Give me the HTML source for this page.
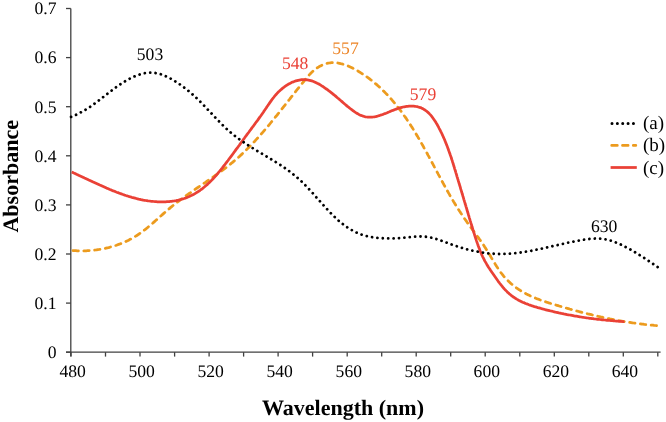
<!DOCTYPE html>
<html><head><meta charset="utf-8"><style>
html,body{margin:0;padding:0;background:#fff;}
svg{display:block;will-change:transform;}
.t{font-family:"Liberation Serif",serif;font-size:17.6px;fill:#000;}
.l{font-family:"Liberation Serif",serif;font-size:19px;fill:#000;}
svg text{text-rendering:geometricPrecision;}
.b{font-family:"Liberation Serif",serif;font-size:22px;font-weight:bold;fill:#000;}
</style></head><body>
<svg width="666" height="422" viewBox="0 0 666 422">
<line x1="70.8" y1="8.6" x2="70.8" y2="356.5" stroke="#404040" stroke-width="1.3"/>
<line x1="66" y1="352.2" x2="660.6" y2="352.2" stroke="#404040" stroke-width="1.3"/>
<line x1="66" y1="352.2" x2="70.8" y2="352.2" stroke="#404040" stroke-width="1.3"/>
<line x1="66" y1="303.1" x2="70.8" y2="303.1" stroke="#404040" stroke-width="1.3"/>
<line x1="66" y1="254.0" x2="70.8" y2="254.0" stroke="#404040" stroke-width="1.3"/>
<line x1="66" y1="204.9" x2="70.8" y2="204.9" stroke="#404040" stroke-width="1.3"/>
<line x1="66" y1="155.8" x2="70.8" y2="155.8" stroke="#404040" stroke-width="1.3"/>
<line x1="66" y1="106.7" x2="70.8" y2="106.7" stroke="#404040" stroke-width="1.3"/>
<line x1="66" y1="57.6" x2="70.8" y2="57.6" stroke="#404040" stroke-width="1.3"/>
<line x1="66" y1="8.5" x2="70.8" y2="8.5" stroke="#404040" stroke-width="1.3"/>
<line x1="71.0" y1="352.2" x2="71.0" y2="356.6" stroke="#404040" stroke-width="1.3"/>
<line x1="105.5" y1="352.2" x2="105.5" y2="356.6" stroke="#404040" stroke-width="1.3"/>
<line x1="140.0" y1="352.2" x2="140.0" y2="356.6" stroke="#404040" stroke-width="1.3"/>
<line x1="174.6" y1="352.2" x2="174.6" y2="356.6" stroke="#404040" stroke-width="1.3"/>
<line x1="209.1" y1="352.2" x2="209.1" y2="356.6" stroke="#404040" stroke-width="1.3"/>
<line x1="243.6" y1="352.2" x2="243.6" y2="356.6" stroke="#404040" stroke-width="1.3"/>
<line x1="278.1" y1="352.2" x2="278.1" y2="356.6" stroke="#404040" stroke-width="1.3"/>
<line x1="312.6" y1="352.2" x2="312.6" y2="356.6" stroke="#404040" stroke-width="1.3"/>
<line x1="347.2" y1="352.2" x2="347.2" y2="356.6" stroke="#404040" stroke-width="1.3"/>
<line x1="381.7" y1="352.2" x2="381.7" y2="356.6" stroke="#404040" stroke-width="1.3"/>
<line x1="416.2" y1="352.2" x2="416.2" y2="356.6" stroke="#404040" stroke-width="1.3"/>
<line x1="450.7" y1="352.2" x2="450.7" y2="356.6" stroke="#404040" stroke-width="1.3"/>
<line x1="485.2" y1="352.2" x2="485.2" y2="356.6" stroke="#404040" stroke-width="1.3"/>
<line x1="519.8" y1="352.2" x2="519.8" y2="356.6" stroke="#404040" stroke-width="1.3"/>
<line x1="554.3" y1="352.2" x2="554.3" y2="356.6" stroke="#404040" stroke-width="1.3"/>
<line x1="588.8" y1="352.2" x2="588.8" y2="356.6" stroke="#404040" stroke-width="1.3"/>
<line x1="623.3" y1="352.2" x2="623.3" y2="356.6" stroke="#404040" stroke-width="1.3"/>
<line x1="657.8" y1="352.2" x2="657.8" y2="356.6" stroke="#404040" stroke-width="1.3"/>
<text x="56.5" y="358.0" text-anchor="end" class="t">0</text>
<text x="56.5" y="308.9" text-anchor="end" class="t">0.1</text>
<text x="56.5" y="259.8" text-anchor="end" class="t">0.2</text>
<text x="56.5" y="210.7" text-anchor="end" class="t">0.3</text>
<text x="56.5" y="161.6" text-anchor="end" class="t">0.4</text>
<text x="56.5" y="112.5" text-anchor="end" class="t">0.5</text>
<text x="56.5" y="63.4" text-anchor="end" class="t">0.6</text>
<text x="56.5" y="14.3" text-anchor="end" class="t">0.7</text>
<text x="72.6" y="377.0" text-anchor="middle" class="t">480</text>
<text x="141.6" y="377.0" text-anchor="middle" class="t">500</text>
<text x="210.7" y="377.0" text-anchor="middle" class="t">520</text>
<text x="279.7" y="377.0" text-anchor="middle" class="t">540</text>
<text x="348.8" y="377.0" text-anchor="middle" class="t">560</text>
<text x="417.8" y="377.0" text-anchor="middle" class="t">580</text>
<text x="486.8" y="377.0" text-anchor="middle" class="t">600</text>
<text x="555.9" y="377.0" text-anchor="middle" class="t">620</text>
<text x="624.9" y="377.0" text-anchor="middle" class="t">640</text>
<path d="M71.6,250.4 L72.7,250.5 L73.8,250.6 L74.9,250.7 L76.0,250.7 L77.1,250.8 L78.2,250.8 L79.4,250.9 L80.5,250.9 L81.7,250.9 L82.8,250.9 L83.9,250.8 L85.1,250.8 L86.2,250.8 L87.4,250.7 L88.6,250.6 L89.7,250.6 L90.9,250.5 L92.1,250.4 L93.2,250.2 L94.4,250.1 L95.6,250.0 L96.7,249.8 L97.9,249.6 L99.1,249.5 L100.3,249.3 L101.4,249.1 L102.6,248.8 L103.8,248.6 L104.9,248.4 L106.1,248.1 L107.3,247.8 L108.4,247.6 L109.6,247.3 L110.7,246.9 L111.9,246.6 L113.0,246.3 L114.2,245.9 L115.3,245.6 L116.5,245.2 L117.6,244.8 L118.7,244.4 L119.8,244.0 L121.0,243.6 L122.1,243.1 L123.2,242.7 L124.3,242.2 L125.4,241.7 L126.4,241.2 L127.5,240.7 L128.6,240.2 L129.6,239.6 L130.7,239.1 L131.7,238.5 L132.8,237.9 L133.8,237.4 L134.8,236.7 L135.8,236.1 L136.8,235.5 L137.8,234.8 L138.8,234.2 L139.7,233.5 L140.7,232.8 L141.7,232.1 L142.6,231.4 L143.6,230.7 L144.5,230.0 L145.4,229.3 L146.4,228.5 L147.3,227.8 L148.2,227.0 L149.1,226.3 L150.0,225.5 L150.9,224.7 L151.8,223.9 L152.7,223.2 L153.6,222.4 L154.5,221.6 L155.4,220.8 L156.3,220.0 L157.2,219.2 L158.1,218.4 L159.0,217.6 L159.9,216.8 L160.8,216.0 L161.7,215.2 L162.6,214.4 L163.5,213.6 L164.4,212.8 L165.3,212.0 L166.2,211.2 L167.1,210.4 L168.0,209.6 L169.0,208.9 L169.9,208.1 L170.8,207.3 L171.7,206.6 L172.7,205.8 L173.6,205.1 L174.6,204.3 L175.5,203.6 L176.5,202.8 L177.4,202.1 L178.4,201.4 L179.4,200.6 L180.3,199.9 L181.3,199.2 L182.3,198.5 L183.2,197.8 L184.2,197.1 L185.2,196.4 L186.2,195.6 L187.2,194.9 L188.2,194.2 L189.1,193.5 L190.1,192.9 L191.1,192.2 L192.1,191.5 L193.1,190.8 L194.1,190.1 L195.1,189.4 L196.1,188.7 L197.1,188.0 L198.1,187.3 L199.1,186.7 L200.1,186.0 L201.1,185.3 L202.1,184.6 L203.1,183.9 L204.1,183.2 L205.1,182.6 L206.1,181.9 L207.1,181.2 L208.1,180.5 L209.1,179.8 L210.0,179.1 L211.0,178.4 L212.0,177.8 L213.0,177.1 L214.0,176.4 L215.0,175.7 L216.0,175.0 L216.9,174.3 L217.9,173.6 L218.9,172.9 L219.9,172.2 L220.8,171.5 L221.8,170.7 L222.8,170.0 L223.7,169.3 L224.7,168.6 L225.6,167.9 L226.6,167.1 L227.5,166.4 L228.4,165.7 L229.4,164.9 L230.3,164.2 L231.2,163.4 L232.2,162.7 L233.1,161.9 L234.0,161.2 L234.9,160.4 L235.8,159.6 L236.7,158.8 L237.6,158.1 L238.5,157.3 L239.4,156.5 L240.2,155.7 L241.1,154.9 L242.0,154.1 L242.8,153.3 L243.7,152.4 L244.6,151.6 L245.4,150.8 L246.2,150.0 L247.1,149.1 L247.9,148.3 L248.8,147.5 L249.6,146.6 L250.4,145.8 L251.3,144.9 L252.1,144.1 L252.9,143.2 L253.7,142.3 L254.5,141.5 L255.3,140.6 L256.1,139.7 L256.9,138.8 L257.7,138.0 L258.5,137.1 L259.3,136.2 L260.1,135.3 L260.9,134.4 L261.7,133.5 L262.5,132.6 L263.3,131.7 L264.0,130.8 L264.8,129.9 L265.6,129.0 L266.4,128.1 L267.1,127.2 L267.9,126.2 L268.7,125.3 L269.5,124.4 L270.2,123.5 L271.0,122.5 L271.7,121.6 L272.5,120.7 L273.3,119.8 L274.0,118.8 L274.8,117.9 L275.5,116.9 L276.3,116.0 L277.1,115.1 L277.8,114.1 L278.6,113.2 L279.3,112.2 L280.1,111.3 L280.8,110.3 L281.6,109.4 L282.3,108.4 L283.1,107.5 L283.8,106.5 L284.6,105.6 L285.3,104.6 L286.1,103.6 L286.8,102.7 L287.6,101.7 L288.4,100.8 L289.1,99.8 L289.9,98.9 L290.6,97.9 L291.4,96.9 L292.1,96.0 L292.9,95.0 L293.7,94.0 L294.4,93.1 L295.2,92.1 L295.9,91.2 L296.7,90.2 L297.5,89.2 L298.2,88.3 L299.0,87.3 L299.8,86.4 L300.5,85.4 L301.3,84.4 L302.1,83.5 L302.9,82.5 L303.7,81.6 L304.4,80.6 L305.2,79.6 L306.0,78.7 L306.8,77.7 L307.6,76.8 L308.4,75.9 L309.2,74.9 L310.1,74.0 L310.9,73.1 L311.8,72.3 L312.7,71.4 L313.6,70.6 L314.5,69.9 L315.4,69.1 L316.4,68.4 L317.4,67.7 L318.4,67.1 L319.4,66.5 L320.5,65.9 L321.5,65.4 L322.6,64.9 L323.7,64.5 L324.8,64.1 L325.9,63.7 L327.0,63.4 L328.1,63.2 L329.2,63.0 L330.4,62.8 L331.5,62.7 L332.6,62.7 L333.8,62.7 L334.9,62.7 L336.1,62.8 L337.2,62.9 L338.4,63.1 L339.5,63.3 L340.6,63.6 L341.8,63.8 L342.9,64.2 L344.0,64.5 L345.2,64.9 L346.3,65.3 L347.4,65.7 L348.6,66.2 L349.7,66.7 L350.8,67.2 L351.9,67.7 L353.0,68.3 L354.1,68.9 L355.2,69.5 L356.3,70.1 L357.3,70.7 L358.4,71.3 L359.5,72.0 L360.5,72.6 L361.6,73.3 L362.6,74.0 L363.6,74.6 L364.6,75.3 L365.6,76.0 L366.6,76.7 L367.6,77.4 L368.6,78.1 L369.6,78.9 L370.5,79.6 L371.5,80.3 L372.4,81.1 L373.3,81.8 L374.3,82.6 L375.2,83.4 L376.1,84.1 L377.0,84.9 L377.9,85.7 L378.8,86.5 L379.7,87.3 L380.6,88.1 L381.4,88.9 L382.3,89.8 L383.1,90.6 L384.0,91.4 L384.8,92.3 L385.6,93.1 L386.5,94.0 L387.3,94.8 L388.1,95.7 L388.9,96.5 L389.7,97.4 L390.5,98.3 L391.3,99.2 L392.1,100.1 L392.8,101.0 L393.6,101.9 L394.4,102.8 L395.1,103.7 L395.9,104.6 L396.6,105.5 L397.3,106.5 L398.1,107.4 L398.8,108.3 L399.5,109.3 L400.2,110.2 L401.0,111.2 L401.7,112.1 L402.4,113.1 L403.1,114.0 L403.7,115.0 L404.4,116.0 L405.1,116.9 L405.8,117.9 L406.5,118.9 L407.1,119.9 L407.8,120.9 L408.5,121.9 L409.1,122.9 L409.8,123.9 L410.4,124.9 L411.1,125.9 L411.7,126.9 L412.4,127.9 L413.0,128.9 L413.6,129.9 L414.3,131.0 L414.9,132.0 L415.5,133.0 L416.1,134.0 L416.7,135.1 L417.4,136.1 L418.0,137.2 L418.6,138.2 L419.2,139.2 L419.8,140.3 L420.4,141.3 L421.0,142.4 L421.6,143.4 L422.2,144.5 L422.8,145.5 L423.4,146.6 L423.9,147.6 L424.5,148.7 L425.1,149.7 L425.7,150.8 L426.3,151.9 L426.9,152.9 L427.4,154.0 L428.0,155.1 L428.6,156.1 L429.2,157.2 L429.7,158.3 L430.3,159.3 L430.9,160.4 L431.5,161.5 L432.0,162.5 L432.6,163.6 L433.2,164.7 L433.8,165.7 L434.3,166.8 L434.9,167.9 L435.5,169.0 L436.0,170.0 L436.6,171.1 L437.2,172.2 L437.8,173.2 L438.3,174.3 L438.9,175.4 L439.5,176.4 L440.0,177.5 L440.6,178.6 L441.2,179.6 L441.8,180.7 L442.3,181.8 L442.9,182.8 L443.5,183.9 L444.1,185.0 L444.7,186.0 L445.3,187.1 L445.8,188.1 L446.4,189.2 L447.0,190.2 L447.6,191.3 L448.2,192.3 L448.8,193.4 L449.4,194.4 L450.0,195.5 L450.6,196.5 L451.2,197.5 L451.8,198.6 L452.4,199.6 L453.0,200.6 L453.6,201.7 L454.3,202.7 L454.9,203.7 L455.5,204.7 L456.1,205.8 L456.8,206.8 L457.4,207.8 L458.0,208.8 L458.7,209.8 L459.3,210.8 L460.0,211.8 L460.6,212.8 L461.3,213.8 L461.9,214.8 L462.6,215.8 L463.3,216.7 L463.9,217.7 L464.6,218.7 L465.3,219.7 L466.0,220.6 L466.7,221.6 L467.3,222.6 L468.0,223.5 L468.7,224.5 L469.4,225.4 L470.1,226.4 L470.8,227.4 L471.5,228.3 L472.2,229.3 L472.9,230.2 L473.6,231.2 L474.3,232.1 L475.0,233.1 L475.7,234.0 L476.4,235.0 L477.1,236.0 L477.8,236.9 L478.5,237.9 L479.2,238.9 L479.9,239.8 L480.6,240.8 L481.3,241.8 L482.0,242.8 L482.6,243.8 L483.3,244.7 L484.0,245.7 L484.6,246.7 L485.3,247.8 L485.9,248.8 L486.6,249.8 L487.2,250.8 L487.9,251.8 L488.5,252.9 L489.1,253.9 L489.8,255.0 L490.4,256.0 L491.0,257.1 L491.6,258.1 L492.2,259.2 L492.9,260.2 L493.5,261.3 L494.1,262.3 L494.8,263.4 L495.4,264.4 L496.1,265.5 L496.7,266.5 L497.4,267.5 L498.0,268.5 L498.7,269.6 L499.4,270.6 L500.1,271.5 L500.8,272.5 L501.6,273.5 L502.3,274.4 L503.1,275.4 L503.8,276.3 L504.6,277.2 L505.4,278.1 L506.3,279.0 L507.1,279.9 L508.0,280.7 L508.8,281.5 L509.7,282.4 L510.6,283.2 L511.5,284.0 L512.4,284.7 L513.4,285.5 L514.3,286.2 L515.3,287.0 L516.2,287.7 L517.2,288.4 L518.2,289.1 L519.2,289.7 L520.2,290.4 L521.2,291.0 L522.3,291.7 L523.3,292.3 L524.3,292.9 L525.4,293.4 L526.5,294.0 L527.5,294.5 L528.6,295.1 L529.7,295.6 L530.8,296.1 L531.9,296.6 L533.0,297.1 L534.1,297.6 L535.2,298.0 L536.3,298.5 L537.4,298.9 L538.6,299.3 L539.7,299.8 L540.8,300.2 L542.0,300.6 L543.1,301.0 L544.3,301.4 L545.4,301.7 L546.5,302.1 L547.7,302.5 L548.8,302.9 L550.0,303.2 L551.1,303.6 L552.3,303.9 L553.5,304.3 L554.6,304.6 L555.8,305.0 L556.9,305.3 L558.1,305.6 L559.2,306.0 L560.4,306.3 L561.5,306.7 L562.7,307.0 L563.8,307.3 L565.0,307.7 L566.1,308.0 L567.3,308.3 L568.4,308.6 L569.6,309.0 L570.7,309.3 L571.9,309.6 L573.0,309.9 L574.2,310.2 L575.3,310.6 L576.4,310.9 L577.6,311.2 L578.7,311.5 L579.9,311.8 L581.0,312.1 L582.2,312.4 L583.3,312.7 L584.5,313.0 L585.6,313.3 L586.8,313.6 L587.9,313.9 L589.1,314.1 L590.2,314.4 L591.4,314.7 L592.5,315.0 L593.7,315.3 L594.8,315.5 L596.0,315.8 L597.1,316.1 L598.3,316.4 L599.4,316.6 L600.6,316.9 L601.8,317.1 L602.9,317.4 L604.1,317.6 L605.2,317.9 L606.4,318.1 L607.6,318.4 L608.7,318.6 L609.9,318.9 L611.0,319.1 L612.2,319.3 L613.4,319.6 L614.5,319.8 L615.7,320.0 L616.9,320.2 L618.1,320.4 L619.2,320.7 L620.4,320.9 L621.6,321.1 L622.8,321.3 L624.0,321.5 L625.1,321.7 L626.3,321.9 L627.5,322.1 L628.7,322.3 L629.9,322.4 L631.1,322.6 L632.3,322.8 L633.5,323.0 L634.7,323.1 L635.9,323.3 L637.1,323.5 L638.3,323.6 L639.5,323.8 L640.7,323.9 L641.9,324.1 L643.1,324.2 L644.3,324.4 L645.5,324.5 L646.8,324.6 L648.0,324.8 L649.2,324.9 L650.4,325.0 L651.7,325.1 L652.9,325.2 L654.1,325.4 L655.4,325.5 L656.6,325.6 L657.9,325.7 L658.9,325.7" fill="none" stroke="#EC9B1E" stroke-width="2.75" stroke-linecap="round" stroke-linejoin="round" stroke-dasharray="5.4 5.45" stroke-dashoffset="-1.4"/>
<path d="M71.7,172.0 L72.8,172.5 L73.8,173.0 L74.9,173.4 L76.0,173.9 L77.0,174.4 L78.1,174.9 L79.1,175.4 L80.2,175.9 L81.3,176.4 L82.4,176.9 L83.4,177.4 L84.5,178.0 L85.6,178.5 L86.7,179.0 L87.8,179.5 L88.8,180.0 L89.9,180.5 L91.0,181.0 L92.1,181.5 L93.2,182.1 L94.3,182.6 L95.4,183.1 L96.5,183.6 L97.6,184.1 L98.7,184.6 L99.8,185.1 L101.0,185.6 L102.1,186.1 L103.2,186.6 L104.3,187.1 L105.4,187.6 L106.5,188.1 L107.7,188.5 L108.8,189.0 L109.9,189.5 L111.1,189.9 L112.2,190.4 L113.3,190.9 L114.5,191.3 L115.6,191.8 L116.7,192.2 L117.9,192.6 L119.0,193.1 L120.2,193.5 L121.3,193.9 L122.4,194.3 L123.6,194.7 L124.7,195.1 L125.9,195.5 L127.0,195.8 L128.2,196.2 L129.4,196.6 L130.5,196.9 L131.7,197.3 L132.8,197.6 L134.0,197.9 L135.1,198.2 L136.3,198.5 L137.5,198.8 L138.6,199.1 L139.8,199.3 L141.0,199.6 L142.1,199.8 L143.3,200.1 L144.5,200.3 L145.7,200.5 L146.8,200.7 L148.0,200.9 L149.2,201.0 L150.4,201.2 L151.5,201.3 L152.7,201.4 L153.9,201.5 L155.1,201.6 L156.2,201.7 L157.4,201.8 L158.6,201.8 L159.8,201.9 L161.0,201.9 L162.1,201.9 L163.3,201.9 L164.5,201.9 L165.7,201.8 L166.9,201.7 L168.0,201.7 L169.2,201.6 L170.4,201.4 L171.5,201.3 L172.7,201.1 L173.9,201.0 L175.0,200.8 L176.2,200.6 L177.3,200.3 L178.5,200.1 L179.6,199.8 L180.8,199.5 L181.9,199.2 L183.0,198.8 L184.1,198.5 L185.3,198.1 L186.4,197.7 L187.5,197.2 L188.6,196.8 L189.7,196.3 L190.7,195.8 L191.8,195.3 L192.9,194.7 L193.9,194.2 L195.0,193.6 L196.0,192.9 L197.1,192.3 L198.1,191.6 L199.1,191.0 L200.1,190.3 L201.1,189.5 L202.1,188.8 L203.0,188.1 L204.0,187.3 L204.9,186.5 L205.8,185.7 L206.8,184.9 L207.7,184.1 L208.5,183.3 L209.4,182.5 L210.3,181.6 L211.1,180.8 L212.0,179.9 L212.8,179.0 L213.6,178.2 L214.4,177.3 L215.2,176.4 L216.0,175.5 L216.8,174.6 L217.6,173.7 L218.4,172.7 L219.1,171.8 L219.9,170.9 L220.7,170.0 L221.4,169.0 L222.2,168.1 L222.9,167.1 L223.6,166.2 L224.4,165.2 L225.1,164.3 L225.8,163.3 L226.5,162.4 L227.3,161.4 L228.0,160.5 L228.7,159.5 L229.4,158.5 L230.1,157.6 L230.9,156.6 L231.6,155.7 L232.3,154.7 L233.0,153.7 L233.7,152.8 L234.4,151.8 L235.1,150.9 L235.8,149.9 L236.5,148.9 L237.3,148.0 L238.0,147.0 L238.7,146.0 L239.4,145.1 L240.1,144.1 L240.8,143.1 L241.5,142.2 L242.2,141.2 L242.9,140.2 L243.6,139.2 L244.3,138.3 L245.0,137.3 L245.7,136.3 L246.4,135.4 L247.1,134.4 L247.9,133.4 L248.6,132.5 L249.3,131.5 L250.0,130.5 L250.7,129.6 L251.4,128.6 L252.1,127.6 L252.9,126.7 L253.6,125.7 L254.3,124.7 L255.0,123.8 L255.7,122.8 L256.4,121.8 L257.2,120.8 L257.9,119.9 L258.6,118.9 L259.3,117.9 L260.0,116.9 L260.7,116.0 L261.4,115.0 L262.1,114.0 L262.8,113.0 L263.5,112.0 L264.1,111.0 L264.8,110.0 L265.5,109.0 L266.2,108.0 L266.8,107.0 L267.5,106.0 L268.2,105.1 L268.8,104.1 L269.5,103.1 L270.2,102.1 L270.9,101.1 L271.6,100.1 L272.3,99.2 L273.0,98.2 L273.8,97.3 L274.5,96.3 L275.3,95.4 L276.1,94.5 L276.9,93.6 L277.7,92.7 L278.6,91.8 L279.5,91.0 L280.3,90.2 L281.3,89.4 L282.2,88.6 L283.1,87.8 L284.1,87.1 L285.1,86.3 L286.1,85.6 L287.1,85.0 L288.2,84.3 L289.3,83.7 L290.3,83.2 L291.4,82.6 L292.6,82.1 L293.7,81.7 L294.8,81.3 L295.9,80.9 L297.1,80.6 L298.2,80.3 L299.4,80.1 L300.5,79.9 L301.7,79.7 L302.8,79.7 L304.0,79.6 L305.1,79.7 L306.3,79.8 L307.4,79.9 L308.5,80.1 L309.6,80.3 L310.7,80.6 L311.8,80.9 L312.9,81.3 L314.0,81.7 L315.1,82.2 L316.2,82.7 L317.2,83.2 L318.3,83.7 L319.3,84.3 L320.3,84.9 L321.4,85.6 L322.4,86.2 L323.4,86.9 L324.4,87.6 L325.4,88.3 L326.4,89.0 L327.4,89.7 L328.3,90.4 L329.3,91.2 L330.3,91.9 L331.2,92.6 L332.2,93.4 L333.1,94.1 L334.0,94.9 L335.0,95.6 L335.9,96.4 L336.8,97.2 L337.7,98.0 L338.6,98.7 L339.5,99.5 L340.4,100.3 L341.4,101.1 L342.3,101.9 L343.2,102.7 L344.1,103.5 L345.0,104.3 L346.0,105.1 L346.9,105.9 L347.8,106.7 L348.8,107.4 L349.8,108.2 L350.8,109.0 L351.7,109.7 L352.7,110.5 L353.7,111.2 L354.7,111.9 L355.8,112.6 L356.8,113.2 L357.8,113.8 L358.9,114.4 L359.9,114.9 L361.0,115.4 L362.1,115.8 L363.2,116.2 L364.3,116.5 L365.4,116.8 L366.5,117.0 L367.6,117.1 L368.7,117.2 L369.8,117.2 L371.0,117.2 L372.1,117.1 L373.3,117.0 L374.4,116.8 L375.6,116.6 L376.8,116.3 L377.9,116.0 L379.1,115.7 L380.2,115.3 L381.4,114.9 L382.6,114.5 L383.7,114.1 L384.9,113.6 L386.0,113.2 L387.2,112.7 L388.3,112.2 L389.5,111.8 L390.6,111.3 L391.7,110.8 L392.8,110.4 L394.0,109.9 L395.1,109.5 L396.2,109.1 L397.3,108.7 L398.5,108.3 L399.6,107.9 L400.8,107.6 L401.9,107.3 L403.1,107.0 L404.3,106.8 L405.5,106.6 L406.6,106.4 L407.8,106.3 L409.0,106.2 L410.2,106.1 L411.4,106.1 L412.6,106.1 L413.8,106.2 L414.9,106.3 L416.1,106.5 L417.2,106.7 L418.3,107.0 L419.4,107.3 L420.5,107.6 L421.5,108.1 L422.5,108.5 L423.5,109.1 L424.5,109.7 L425.4,110.3 L426.3,111.0 L427.2,111.7 L428.0,112.4 L428.9,113.2 L429.7,114.1 L430.5,114.9 L431.3,115.8 L432.0,116.8 L432.7,117.7 L433.4,118.7 L434.1,119.7 L434.8,120.7 L435.5,121.8 L436.1,122.8 L436.8,123.9 L437.4,125.0 L438.0,126.1 L438.6,127.2 L439.1,128.3 L439.7,129.4 L440.3,130.5 L440.8,131.6 L441.4,132.7 L441.9,133.8 L442.4,134.9 L442.9,136.0 L443.4,137.1 L443.9,138.2 L444.4,139.3 L444.8,140.4 L445.3,141.5 L445.7,142.6 L446.2,143.8 L446.6,144.9 L447.1,146.0 L447.5,147.1 L447.9,148.2 L448.3,149.3 L448.7,150.5 L449.1,151.6 L449.5,152.7 L449.9,153.8 L450.3,155.0 L450.7,156.1 L451.1,157.2 L451.4,158.3 L451.8,159.5 L452.2,160.6 L452.5,161.7 L452.9,162.9 L453.2,164.0 L453.6,165.1 L453.9,166.3 L454.3,167.4 L454.6,168.6 L455.0,169.7 L455.3,170.8 L455.7,172.0 L456.0,173.1 L456.4,174.3 L456.7,175.4 L457.0,176.6 L457.4,177.7 L457.7,178.9 L458.1,180.0 L458.4,181.2 L458.8,182.3 L459.1,183.5 L459.5,184.6 L459.8,185.8 L460.2,186.9 L460.5,188.1 L460.8,189.2 L461.2,190.4 L461.5,191.5 L461.9,192.7 L462.2,193.8 L462.6,195.0 L462.9,196.2 L463.3,197.3 L463.6,198.5 L463.9,199.6 L464.3,200.8 L464.6,201.9 L465.0,203.1 L465.3,204.3 L465.7,205.4 L466.0,206.6 L466.4,207.7 L466.7,208.9 L467.0,210.0 L467.4,211.2 L467.7,212.3 L468.1,213.5 L468.4,214.7 L468.8,215.8 L469.1,217.0 L469.4,218.1 L469.8,219.3 L470.1,220.4 L470.5,221.6 L470.8,222.7 L471.2,223.9 L471.5,225.0 L471.9,226.2 L472.2,227.3 L472.6,228.5 L472.9,229.6 L473.3,230.8 L473.6,231.9 L474.0,233.1 L474.4,234.2 L474.7,235.4 L475.1,236.5 L475.5,237.7 L475.8,238.8 L476.2,239.9 L476.6,241.1 L477.0,242.2 L477.4,243.4 L477.8,244.5 L478.2,245.7 L478.6,246.8 L479.0,247.9 L479.5,249.0 L479.9,250.2 L480.3,251.3 L480.8,252.4 L481.3,253.5 L481.7,254.6 L482.2,255.7 L482.7,256.8 L483.3,257.9 L483.8,258.9 L484.3,260.0 L484.9,261.1 L485.5,262.1 L486.1,263.1 L486.7,264.2 L487.3,265.2 L487.9,266.2 L488.5,267.2 L489.2,268.2 L489.9,269.2 L490.5,270.2 L491.2,271.2 L491.9,272.3 L492.6,273.3 L493.3,274.3 L494.0,275.3 L494.7,276.3 L495.4,277.3 L496.1,278.3 L496.8,279.3 L497.5,280.3 L498.2,281.3 L499.0,282.3 L499.7,283.3 L500.5,284.2 L501.2,285.2 L502.0,286.1 L502.8,287.1 L503.5,288.0 L504.3,288.9 L505.1,289.7 L506.0,290.6 L506.8,291.4 L507.6,292.3 L508.5,293.0 L509.3,293.8 L510.2,294.5 L511.1,295.3 L512.0,296.0 L512.9,296.6 L513.8,297.3 L514.8,297.9 L515.7,298.5 L516.7,299.1 L517.6,299.6 L518.6,300.2 L519.6,300.7 L520.6,301.2 L521.6,301.7 L522.6,302.2 L523.7,302.6 L524.7,303.1 L525.7,303.5 L526.8,303.9 L527.9,304.3 L528.9,304.7 L530.0,305.1 L531.1,305.5 L532.2,305.9 L533.3,306.2 L534.4,306.6 L535.5,306.9 L536.7,307.2 L537.8,307.6 L538.9,307.9 L540.1,308.2 L541.2,308.5 L542.4,308.9 L543.6,309.2 L544.7,309.5 L545.9,309.8 L547.1,310.1 L548.3,310.4 L549.4,310.7 L550.6,311.0 L551.8,311.2 L553.0,311.5 L554.2,311.8 L555.4,312.1 L556.6,312.3 L557.8,312.6 L558.9,312.9 L560.1,313.1 L561.3,313.4 L562.5,313.6 L563.7,313.9 L564.9,314.1 L566.0,314.3 L567.2,314.6 L568.4,314.8 L569.6,315.0 L570.7,315.2 L571.9,315.4 L573.0,315.6 L574.2,315.9 L575.3,316.1 L576.4,316.2 L577.5,316.4 L578.7,316.6 L579.8,316.8 L580.9,317.0 L582.0,317.2 L583.1,317.3 L584.2,317.5 L585.3,317.7 L586.4,317.8 L587.5,318.0 L588.6,318.1 L589.7,318.3 L590.8,318.4 L591.9,318.6 L593.0,318.7 L594.1,318.9 L595.3,319.0 L596.4,319.1 L597.6,319.3 L598.7,319.4 L599.9,319.5 L601.1,319.6 L602.2,319.8 L603.4,319.9 L604.7,320.0 L605.9,320.1 L607.1,320.3 L608.4,320.4 L609.7,320.5 L611.0,320.6 L612.3,320.7 L613.6,320.8 L614.9,321.0 L616.3,321.1 L617.7,321.2 L619.1,321.3 L620.6,321.4 L622.0,321.5 L623.5,321.7 L624.4,321.7" fill="none" stroke="#EA4136" stroke-width="2.75" stroke-linejoin="round"/>
<path d="M71.1,116.9 L72.4,116.4 L73.6,115.9 L74.8,115.3 L76.0,114.8 L77.2,114.2 L78.4,113.7 L79.5,113.1 L80.6,112.5 L81.7,111.9 L82.8,111.3 L83.8,110.7 L84.9,110.1 L85.9,109.5 L86.9,108.9 L87.9,108.2 L88.9,107.6 L89.9,107.0 L90.8,106.3 L91.8,105.6 L92.8,105.0 L93.7,104.3 L94.6,103.6 L95.6,102.9 L96.5,102.3 L97.4,101.6 L98.3,100.9 L99.2,100.2 L100.1,99.5 L101.1,98.8 L102.0,98.0 L102.9,97.3 L103.8,96.6 L104.7,95.9 L105.6,95.2 L106.6,94.4 L107.5,93.7 L108.4,93.0 L109.4,92.3 L110.3,91.5 L111.3,90.8 L112.2,90.1 L113.2,89.3 L114.2,88.6 L115.2,87.9 L116.2,87.1 L117.2,86.4 L118.2,85.7 L119.3,85.0 L120.3,84.3 L121.4,83.6 L122.4,82.9 L123.5,82.2 L124.6,81.6 L125.6,80.9 L126.7,80.3 L127.8,79.7 L128.9,79.1 L130.0,78.5 L131.1,77.9 L132.3,77.4 L133.4,76.9 L134.5,76.4 L135.6,75.9 L136.8,75.5 L137.9,75.0 L139.1,74.7 L140.2,74.3 L141.4,74.0 L142.5,73.7 L143.7,73.4 L144.9,73.2 L146.0,73.0 L147.2,72.9 L148.4,72.8 L149.6,72.7 L150.7,72.7 L151.9,72.7 L153.1,72.7 L154.3,72.8 L155.5,73.0 L156.6,73.2 L157.8,73.4 L159.0,73.7 L160.2,74.0 L161.4,74.4 L162.5,74.8 L163.7,75.3 L164.9,75.8 L166.0,76.3 L167.2,76.8 L168.3,77.4 L169.4,78.0 L170.6,78.6 L171.7,79.2 L172.8,79.9 L173.9,80.5 L175.0,81.2 L176.0,81.9 L177.1,82.5 L178.1,83.2 L179.1,83.9 L180.2,84.6 L181.2,85.3 L182.1,86.0 L183.1,86.8 L184.1,87.5 L185.0,88.2 L186.0,88.9 L186.9,89.7 L187.9,90.4 L188.8,91.2 L189.7,91.9 L190.6,92.7 L191.5,93.5 L192.4,94.3 L193.3,95.1 L194.1,95.9 L195.0,96.7 L195.9,97.5 L196.7,98.3 L197.6,99.1 L198.5,99.9 L199.3,100.8 L200.2,101.6 L201.0,102.5 L201.8,103.3 L202.7,104.2 L203.5,105.1 L204.4,105.9 L205.2,106.8 L206.0,107.7 L206.9,108.6 L207.7,109.5 L208.6,110.3 L209.4,111.2 L210.2,112.1 L211.1,113.0 L211.9,113.9 L212.7,114.8 L213.6,115.7 L214.4,116.6 L215.2,117.4 L216.1,118.3 L216.9,119.2 L217.8,120.1 L218.6,121.0 L219.5,121.8 L220.3,122.7 L221.2,123.6 L222.0,124.4 L222.9,125.3 L223.8,126.1 L224.7,127.0 L225.5,127.8 L226.4,128.6 L227.3,129.5 L228.2,130.3 L229.1,131.1 L230.0,131.9 L230.9,132.7 L231.8,133.4 L232.7,134.2 L233.7,134.9 L234.6,135.7 L235.6,136.4 L236.5,137.2 L237.5,137.9 L238.4,138.6 L239.4,139.3 L240.3,140.0 L241.3,140.7 L242.3,141.4 L243.3,142.0 L244.3,142.7 L245.3,143.4 L246.2,144.0 L247.2,144.7 L248.2,145.3 L249.3,146.0 L250.3,146.6 L251.3,147.3 L252.3,147.9 L253.3,148.5 L254.3,149.1 L255.3,149.8 L256.4,150.4 L257.4,151.0 L258.4,151.6 L259.4,152.2 L260.4,152.8 L261.5,153.4 L262.5,154.1 L263.5,154.7 L264.6,155.3 L265.6,155.9 L266.6,156.5 L267.6,157.1 L268.7,157.7 L269.7,158.4 L270.7,159.0 L271.7,159.6 L272.8,160.2 L273.8,160.8 L274.8,161.5 L275.8,162.1 L276.8,162.7 L277.8,163.4 L278.8,164.0 L279.9,164.7 L280.9,165.3 L281.9,166.0 L282.8,166.7 L283.8,167.3 L284.8,168.0 L285.8,168.7 L286.8,169.4 L287.8,170.1 L288.7,170.8 L289.7,171.5 L290.7,172.2 L291.6,173.0 L292.6,173.7 L293.5,174.5 L294.5,175.2 L295.4,176.0 L296.3,176.8 L297.2,177.6 L298.2,178.4 L299.1,179.2 L300.0,180.0 L300.9,180.9 L301.8,181.7 L302.6,182.6 L303.5,183.4 L304.4,184.3 L305.3,185.2 L306.1,186.1 L307.0,187.0 L307.8,187.9 L308.7,188.8 L309.5,189.7 L310.4,190.6 L311.2,191.5 L312.1,192.4 L312.9,193.4 L313.7,194.3 L314.6,195.2 L315.4,196.2 L316.2,197.1 L317.0,198.1 L317.9,199.0 L318.7,199.9 L319.5,200.9 L320.4,201.8 L321.2,202.7 L322.0,203.7 L322.9,204.6 L323.7,205.5 L324.5,206.5 L325.4,207.4 L326.2,208.3 L327.0,209.2 L327.9,210.1 L328.7,211.0 L329.6,211.9 L330.4,212.8 L331.3,213.7 L332.2,214.5 L333.0,215.4 L333.9,216.3 L334.8,217.1 L335.7,217.9 L336.5,218.8 L337.4,219.6 L338.3,220.4 L339.2,221.2 L340.2,222.0 L341.1,222.7 L342.0,223.5 L343.0,224.2 L343.9,224.9 L344.8,225.6 L345.8,226.3 L346.8,227.0 L347.8,227.7 L348.7,228.3 L349.7,228.9 L350.8,229.5 L351.8,230.1 L352.8,230.7 L353.8,231.3 L354.9,231.8 L356.0,232.3 L357.0,232.8 L358.1,233.3 L359.2,233.7 L360.3,234.2 L361.5,234.6 L362.6,234.9 L363.7,235.3 L364.9,235.6 L366.1,235.9 L367.3,236.2 L368.5,236.5 L369.7,236.8 L370.9,237.0 L372.1,237.2 L373.3,237.4 L374.6,237.6 L375.8,237.7 L377.1,237.9 L378.3,238.0 L379.6,238.1 L380.9,238.2 L382.1,238.2 L383.4,238.3 L384.7,238.3 L386.0,238.4 L387.3,238.4 L388.5,238.4 L389.8,238.4 L391.1,238.4 L392.4,238.4 L393.7,238.3 L394.9,238.3 L396.2,238.2 L397.5,238.2 L398.8,238.1 L400.0,238.0 L401.3,237.9 L402.5,237.8 L403.8,237.7 L405.0,237.6 L406.2,237.5 L407.5,237.4 L408.7,237.3 L409.9,237.2 L411.1,237.0 L412.3,236.9 L413.5,236.8 L414.7,236.7 L415.8,236.7 L417.0,236.6 L418.2,236.5 L419.4,236.5 L420.5,236.5 L421.7,236.5 L422.8,236.5 L424.0,236.6 L425.1,236.7 L426.3,236.8 L427.5,236.9 L428.6,237.1 L429.8,237.3 L430.9,237.6 L432.1,237.8 L433.2,238.1 L434.4,238.4 L435.5,238.8 L436.7,239.1 L437.8,239.5 L439.0,239.9 L440.2,240.3 L441.3,240.7 L442.5,241.1 L443.6,241.5 L444.8,241.9 L445.9,242.4 L447.1,242.8 L448.3,243.2 L449.4,243.7 L450.6,244.1 L451.8,244.5 L452.9,244.9 L454.1,245.4 L455.3,245.8 L456.5,246.1 L457.6,246.5 L458.8,246.9 L460.0,247.3 L461.2,247.6 L462.4,248.0 L463.5,248.3 L464.7,248.7 L465.9,249.0 L467.1,249.3 L468.3,249.6 L469.5,249.9 L470.7,250.2 L471.8,250.5 L473.0,250.7 L474.2,251.0 L475.4,251.3 L476.6,251.5 L477.8,251.7 L479.0,251.9 L480.2,252.1 L481.4,252.3 L482.6,252.5 L483.8,252.7 L485.0,252.9 L486.2,253.0 L487.3,253.2 L488.5,253.3 L489.7,253.4 L490.9,253.5 L492.1,253.6 L493.3,253.7 L494.5,253.8 L495.7,253.8 L496.9,253.9 L498.1,253.9 L499.3,254.0 L500.5,254.0 L501.7,254.0 L502.8,254.0 L504.0,253.9 L505.2,253.9 L506.4,253.8 L507.6,253.8 L508.8,253.7 L510.0,253.6 L511.2,253.6 L512.3,253.5 L513.5,253.4 L514.7,253.2 L515.9,253.1 L517.1,253.0 L518.3,252.8 L519.4,252.7 L520.6,252.5 L521.8,252.4 L523.0,252.2 L524.2,252.0 L525.3,251.8 L526.5,251.6 L527.7,251.4 L528.9,251.2 L530.1,251.0 L531.2,250.8 L532.4,250.5 L533.6,250.3 L534.8,250.1 L536.0,249.8 L537.1,249.6 L538.3,249.4 L539.5,249.1 L540.7,248.9 L541.9,248.6 L543.0,248.3 L544.2,248.1 L545.4,247.8 L546.6,247.6 L547.7,247.3 L548.9,247.0 L550.1,246.7 L551.3,246.5 L552.5,246.2 L553.6,245.9 L554.8,245.7 L556.0,245.4 L557.2,245.1 L558.4,244.9 L559.5,244.6 L560.7,244.3 L561.9,244.0 L563.1,243.8 L564.3,243.5 L565.5,243.3 L566.6,243.0 L567.8,242.7 L569.0,242.5 L570.2,242.2 L571.4,242.0 L572.6,241.8 L573.7,241.5 L574.9,241.3 L576.1,241.1 L577.3,240.8 L578.5,240.6 L579.7,240.4 L580.9,240.2 L582.0,240.0 L583.2,239.8 L584.4,239.6 L585.6,239.4 L586.8,239.3 L588.0,239.1 L589.2,239.0 L590.4,238.8 L591.6,238.7 L592.8,238.6 L594.0,238.6 L595.1,238.5 L596.3,238.5 L597.5,238.5 L598.7,238.5 L599.9,238.6 L601.1,238.7 L602.3,238.8 L603.4,239.0 L604.6,239.2 L605.8,239.4 L607.0,239.6 L608.1,239.9 L609.3,240.2 L610.4,240.6 L611.6,240.9 L612.8,241.3 L613.9,241.7 L615.0,242.1 L616.2,242.6 L617.3,243.0 L618.4,243.5 L619.6,244.0 L620.7,244.5 L621.8,245.0 L622.9,245.6 L624.0,246.1 L625.0,246.7 L626.1,247.2 L627.2,247.8 L628.2,248.4 L629.3,248.9 L630.3,249.5 L631.4,250.1 L632.4,250.7 L633.4,251.3 L634.4,251.9 L635.4,252.5 L636.5,253.1 L637.5,253.7 L638.5,254.3 L639.5,255.0 L640.4,255.6 L641.4,256.2 L642.4,256.9 L643.4,257.5 L644.4,258.1 L645.4,258.8 L646.4,259.4 L647.4,260.1 L648.3,260.7 L649.3,261.4 L650.3,262.1 L651.3,262.7 L652.3,263.4 L653.3,264.1 L654.3,264.7 L655.3,265.4 L656.3,266.1 L657.3,266.8 L658.0,267.3" fill="none" stroke="#000000" stroke-width="2.8" stroke-linecap="round" stroke-dasharray="0.01 5.3905"/>
<text x="150" y="60" text-anchor="middle" class="t">503</text>
<text x="345.5" y="54.2" text-anchor="middle" class="t" style="fill:#EC8426">557</text>
<text x="295.2" y="69.1" text-anchor="middle" class="t" style="fill:#EA4136">548</text>
<text x="423" y="99.8" text-anchor="middle" class="t" style="fill:#EA4136">579</text>
<text x="604.2" y="232.2" text-anchor="middle" class="t">630</text>
<line x1="612.0" y1="123.4" x2="634.0" y2="123.4" stroke="#000000" stroke-width="3" stroke-linecap="round" stroke-dasharray="0.01 5.35"/>
<line x1="611.7" y1="145.4" x2="635.8" y2="145.4" stroke="#EC9B1E" stroke-width="2.75" stroke-linecap="round" stroke-dasharray="5.6 5.2"/>
<line x1="610.6" y1="167.5" x2="636.8" y2="167.5" stroke="#EA4136" stroke-width="2.75"/>
<text x="643" y="129.3" class="l">(a)</text>
<text x="643" y="151.3" class="l">(b)</text>
<text x="643" y="173.6" class="l">(c)</text>
<text x="343" y="415" text-anchor="middle" class="b">Wavelength (nm)</text>
<text transform="translate(17.8,176.3) rotate(-90)" text-anchor="middle" class="b">Absorbance</text>
</svg>
</body></html>
